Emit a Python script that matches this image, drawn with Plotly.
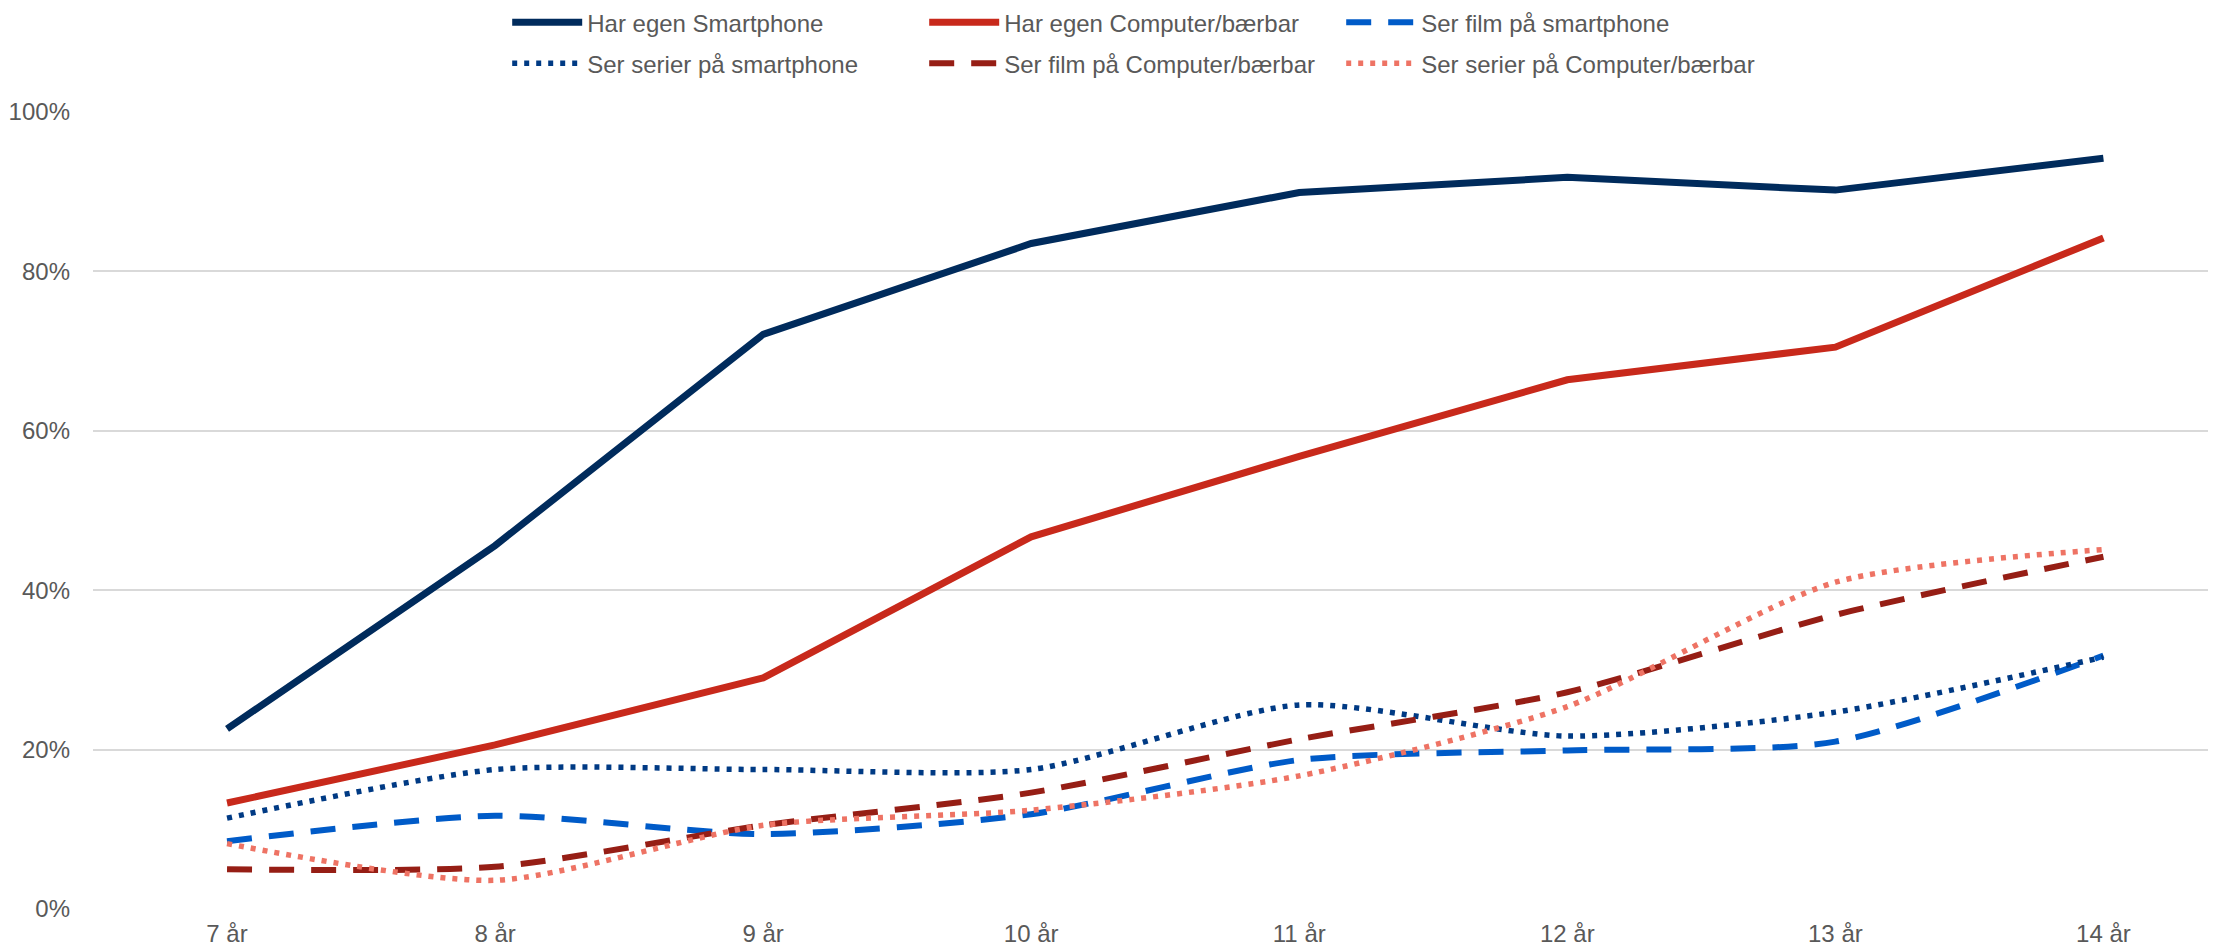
import plotly.graph_objects as go

categories = ["7 år", "8 år", "9 år", "10 år", "11 år", "12 år", "13 år", "14 år"]

har_smartphone = [0.226, 0.456, 0.721, 0.835, 0.899, 0.918, 0.902, 0.942]
har_computer = [0.133, 0.206, 0.290, 0.467, 0.568, 0.664, 0.705, 0.842]
film_smartphone = [0.085, 0.117, 0.094, 0.119, 0.187, 0.199, 0.210, 0.318]
serier_smartphone = [0.114, 0.175, 0.175, 0.175, 0.256, 0.217, 0.247, 0.316]
film_computer = [0.050, 0.053, 0.105, 0.146, 0.213, 0.272, 0.369, 0.442]
serier_computer = [0.082, 0.036, 0.105, 0.124, 0.167, 0.254, 0.410, 0.451]

series = [
    ("Har egen Smartphone", har_smartphone, "#002B5C", "solid", 7, "linear", "legend"),
    ("Har egen Computer/bærbar", har_computer, "#C8291B", "solid", 7, "linear", "legend"),
    ("Ser film på smartphone", film_smartphone, "#005BC8", "25px,17px", 6, "spline", "legend"),
    ("Ser serier på smartphone", serier_smartphone, "#003A84", "5px,7px", 5.5, "spline", "legend2"),
    ("Ser film på Computer/bærbar", film_computer, "#961E15", "25px,17px", 6, "spline", "legend2"),
    ("Ser serier på Computer/bærbar", serier_computer, "#EE7364", "5px,7px", 5.5, "spline", "legend2"),
]

fig = go.Figure()
for name, vals, color, dash, width, shape, leg in series:
    line = dict(color=color, width=width, dash=dash, shape=shape)
    if shape == "spline":
        line["smoothing"] = 0.7
    fig.add_trace(go.Scatter(
        x=categories, y=vals, mode="lines", name=name, line=line, legend=leg,
    ))

FONT = "Liberation Sans, Arial, sans-serif"
legend_common = dict(
    orientation="h", xref="paper", yref="paper", xanchor="left", yanchor="middle",
    font=dict(family=FONT, size=24, color="#595959"),
    entrywidth=332, entrywidthmode="pixels", itemwidth=70,
    bgcolor="rgba(0,0,0,0)", tracegroupgap=0,
)

fig.update_layout(
    width=2208, height=941,
    margin=dict(l=85, r=0, t=104, b=40, autoexpand=False),
    paper_bgcolor="white", plot_bgcolor="white",
    font=dict(family=FONT, size=24, color="#595959"),
    showlegend=True,
    legend=dict(x=0.1951, y=1.112, **legend_common),
    legend2=dict(x=0.1951, y=1.0607, **legend_common),
    xaxis=dict(
        type="category", range=[-0.5, 7.42], showgrid=False, zeroline=False,
        showline=False, ticks="", tickfont=dict(family=FONT, size=24, color="#595959"),
        ticklabelstandoff=8,
    ),
    yaxis=dict(
        range=[0, 1], tickvals=[0, 0.2, 0.4, 0.6, 0.8, 1.0], tickformat=".0%",
        showgrid=True, gridcolor="#D9D9D9", gridwidth=1.5, zeroline=False,
        showline=False, ticks="", tickfont=dict(family=FONT, size=24, color="#595959"),
        ticklabelstandoff=22,
    ),
)

fig.write_html("out.html")
